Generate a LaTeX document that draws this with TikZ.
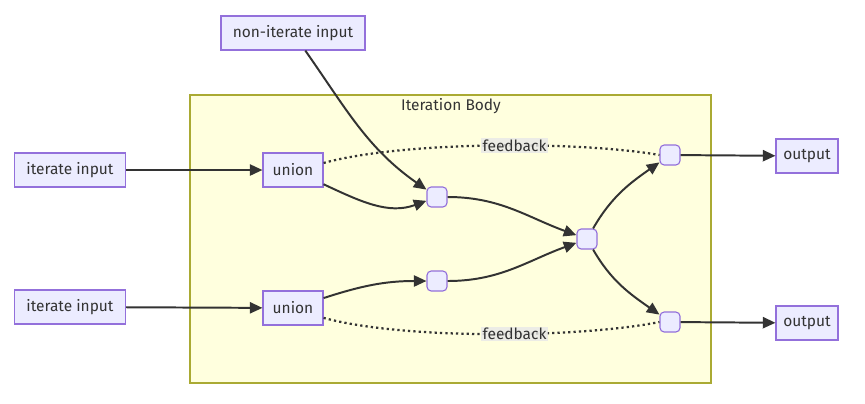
\documentclass[tikz,border=0pt]{standalone}
\usepackage{fontspec}
\setmainfont{Fira Sans}
\usetikzlibrary{arrows.meta}
\definecolor{nodefill}{HTML}{ECECFF}
\definecolor{nodeline}{HTML}{9370DB}
\definecolor{bodyfill}{HTML}{FFFFDE}
\definecolor{bodyline}{HTML}{AAAA33}
\definecolor{edgecol}{HTML}{333333}
\definecolor{lblfill}{HTML}{E8E8E8}
\begin{document}
\begin{tikzpicture}[x=0.025cm,y=-0.025cm,
  box/.style={draw=nodeline,fill=nodefill,line width=0.8pt,minimum height=0.85cm,inner sep=0pt,text=edgecol,font=\fontsize{11}{13}\selectfont},
  junc/.style={draw=nodeline,fill=nodefill,line width=0.8pt,rounded corners=3pt,minimum size=0.5cm,inner sep=0pt},
  flow/.style={draw=edgecol,line width=1.4pt,-{Triangle[length=9pt,width=8pt]}},
  fb/.style={draw=edgecol,line width=1.6pt,dash pattern=on 1.6pt off 2.2pt},
  lbl/.style={fill=lblfill,fill opacity=0.8,text opacity=1,inner sep=1pt,text=edgecol,font=\fontsize{11}{13}\selectfont}]
\useasboundingbox (0,0) rectangle (865,403);
\draw[bodyline,fill=bodyfill,line width=0.8pt] (190,95) rectangle (711,383);
\node[text=edgecol,font=\fontsize{11}{13}\selectfont] (title) at (451,106) {Iteration Body};
\node[box,minimum width=3.6cm] (nonit) at (293,33) {non-iterate input};
\node[box,minimum width=2.78cm] (it1) at (70,170) {iterate input};
\node[box,minimum width=2.78cm] (it2) at (70,307) {iterate input};
\node[box,minimum width=1.5cm] (union1) at (293,170) {union};
\node[box,minimum width=1.5cm] (union2) at (293,308) {union};
\node[junc] (n1) at (437,197) {};
\node[junc] (n2) at (437,281) {};
\node[junc] (n3) at (587,239) {};
\node[junc] (n4) at (670,155) {};
\node[junc] (n5) at (670,322) {};
\node[box,minimum width=1.55cm] (out1) at (807,156) {output};
\node[box,minimum width=1.55cm] (out2) at (807,323) {output};
\draw[flow] (it1) -- (union1);
\draw[flow] (it2) -- (union2);
\draw[flow] (nonit) to[out=-55,in=145] (n1);
\draw[flow] (union1) to[out=-25,in=200] (n1);
\draw[flow] (union2) to[out=18,in=180] (n2);
\draw[flow] (n1) to[out=0,in=160] (n3);
\draw[flow] (n2) to[out=0,in=200] (n3);
\draw[flow] (n3) to[out=60,in=215] (n4);
\draw[flow] (n3) to[out=-60,in=145] (n5);
\draw[flow] (n4) -- (out1);
\draw[flow] (n5) -- (out2);
\draw[fb] ([yshift=5pt]union1.east) .. controls +(80,-22) and +(-80,-14) .. node[lbl,pos=0.56] {feedback} (n4.west);
\draw[fb] ([yshift=-7pt]union2.east) .. controls +(80,22) and +(-80,16) .. node[lbl,pos=0.56] {feedback} (n5.west);
\end{tikzpicture}
\end{document}
